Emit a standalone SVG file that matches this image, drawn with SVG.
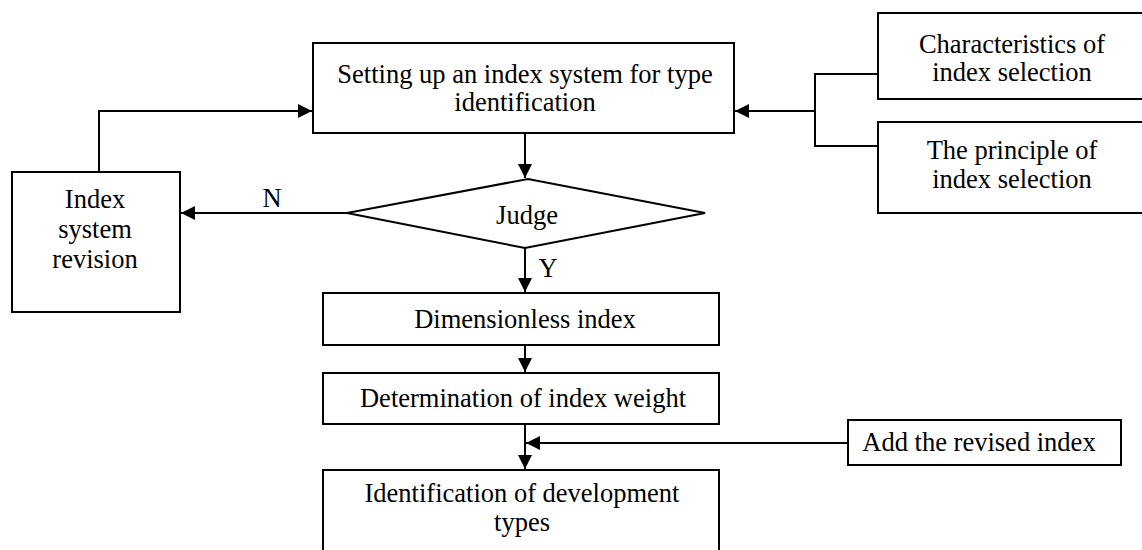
<svg xmlns="http://www.w3.org/2000/svg" width="1142" height="550" viewBox="0 0 1142 550">
<style>
.box{fill:#fff;stroke:#000;stroke-width:2}
.t{font-family:"Liberation Serif","Times New Roman",serif;font-size:26.5px;fill:#000;text-anchor:middle}
.c{fill:none;stroke:#000;stroke-width:2}
</style>
<defs>
<marker id="a" viewBox="0 0 14 14" refX="14" refY="7" markerWidth="14" markerHeight="14" markerUnits="userSpaceOnUse" orient="auto">
<path d="M0,0 L14,7 L0,14 z" fill="#000"/>
</marker>
</defs>
<rect width="1142" height="550" fill="#fff"/>
<g id="connectors">
<path class="c" d="M99,172 V111 H312" marker-end="url(#a)"/>
<path class="c" d="M878,74 H815 V146 H878"/>
<path class="c" d="M815,111 H735" marker-end="url(#a)"/>
<path class="c" d="M525,133 V178" marker-end="url(#a)"/>
<path class="c" d="M347,213 H181" marker-end="url(#a)"/>
<path class="c" d="M525,248 V292" marker-end="url(#a)"/>
<path class="c" d="M525,345 V372" marker-end="url(#a)"/>
<path class="c" d="M525,424 V469" marker-end="url(#a)"/>
<path class="c" d="M848,443 H526" marker-end="url(#a)"/>
<text class="t" x="272" y="207">N</text>
<text class="t" x="548" y="277">Y</text>
</g>
<g id="setup">
<rect class="box" x="313" y="43" width="421" height="90"/>
<text class="t" x="525" y="83">Setting up an index system for type</text>
<text class="t" x="525" y="111">identification</text>
</g>
<g id="characteristics">
<rect class="box" x="878" y="13" width="274" height="86"/>
<text class="t" x="1012" y="53">Characteristics of</text>
<text class="t" x="1012" y="81">index selection</text>
</g>
<g id="principle">
<rect class="box" x="878" y="122" width="274" height="91"/>
<text class="t" x="1012" y="159">The principle of</text>
<text class="t" x="1012" y="188">index selection</text>
</g>
<g id="revision">
<rect class="box" x="12" y="172" width="168" height="140"/>
<text class="t" x="95" y="208">Index</text>
<text class="t" x="95" y="238">system</text>
<text class="t" x="95" y="268">revision</text>
</g>
<g id="judge">
<polygon class="box" points="347,213 528,179 705,213 525,248"/>
<text class="t" x="527" y="224">Judge</text>
</g>
<g id="dimensionless">
<rect class="box" x="323" y="293" width="396" height="52"/>
<text class="t" x="525" y="328">Dimensionless index</text>
</g>
<g id="weight">
<rect class="box" x="323" y="373" width="396" height="51"/>
<text class="t" x="523" y="407">Determination of index weight</text>
</g>
<g id="revised">
<rect class="box" x="848" y="420" width="273" height="45"/>
<text class="t" x="979" y="451">Add the revised index</text>
</g>
<g id="identification">
<rect class="box" x="323" y="470" width="396" height="90"/>
<text class="t" x="522" y="502">Identification of development</text>
<text class="t" x="522" y="531">types</text>
</g>
</svg>
